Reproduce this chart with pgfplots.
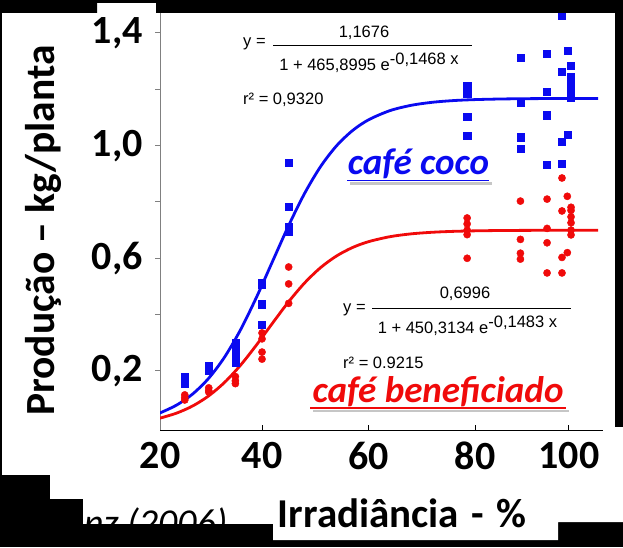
\documentclass[border=0pt]{standalone}
\usepackage{fontspec}
\setmainfont{Carlito}
\newfontfamily\arial{Liberation Sans}
\usepackage{pgfplots}
\pgfplotsset{compat=1.18}
\definecolor{cblue}{RGB}{10,10,240}
\definecolor{cred}{RGB}{240,10,10}
\begin{document}
\begin{tikzpicture}[x=1pt,y=1pt]
\fill[black] (0,0) rectangle (623,547);
\fill[white] (2,72) -- (50,72) -- (50,48) -- (83,48) -- (83,23) -- (273,23) -- (273,7) -- (558,7) -- (558,25) -- (623,25) -- (623,120) -- (615,120) -- (615,534) -- (156,534) -- (156,544) -- (97,544) -- (97,534) -- (2,534) -- cycle;
\begin{axis}[
  scale only axis, width=443pt, height=417pt,
  at={(160pt,117pt)}, anchor=south west,
  xmin=20.85, xmax=104, ymin=-0.0096, ymax=1.4707,
  axis x line=bottom, axis y line=left,
  axis line style={-},
  x axis line style={black, line width=1pt},
  y axis line style={gray, line width=1pt},
  xtick={20.85,40,60,80,97.6}, xticklabels={20,40,60,80,100},
  ytick={0.2,0.4,0.6,0.8,1.0,1.2,1.4},
  yticklabels={{0,2},{},{0,6},{},{1,0},{},{1,4}},
  xtick align=inside, ytick align=outside,
  major tick length=5pt,
  xtick style={black, line width=1pt},
  ytick style={gray, line width=1pt},
  tick label style={font=\fontsize{40}{40}\selectfont\bfseries, inner sep=0pt},
  xticklabel style={yshift=-12pt},
  yticklabel style={xshift=-12pt},
  clip=true,
]
\addplot[only marks, mark=square*, mark size=3.6pt, color=cblue] coordinates {
(25.5,0.18)(25.5,0.165)(25.5,0.155)
(30,0.22)(30,0.21)(30,0.20)
(35,0.30)(35,0.28)(35,0.26)(35,0.245)(35,0.23)
(40,0.513)(40,0.505)(40,0.437)(40,0.363)
(45,0.938)(45,0.782)(45,0.712)(45,0.695)
(78.5,1.212)(78.5,1.186)(78.5,1.103)(78.5,1.034)
(88.5,1.311)(88.5,1.151)(88.5,1.03)(88.5,0.99)
(93.5,1.325)(93.5,1.19)(93.5,1.108)(93.5,0.931)
(96.3,1.46)(96.3,1.261)(96.3,1.013)(96.3,0.937)
(97.3,1.336)(97.3,1.038)
(98,1.284)(98,1.245)(98,1.216)(98,1.2)(98,1.17)
};
\addplot[only marks, mark=*, mark size=3.6pt, color=cred] coordinates {
(25.5,0.115)(25.5,0.105)(25.5,0.097)
(30,0.14)(30,0.13)(30,0.125)
(35,0.18)(35,0.165)(35,0.155)
(40,0.335)(40,0.314)(40,0.267)(40,0.242)
(45,0.569)(45,0.509)(45,0.44)
(78.5,0.743)(78.5,0.722)(78.5,0.70)(78.5,0.684)(78.5,0.60)
(88.5,0.803)(88.5,0.667)(88.5,0.618)(88.5,0.597)
(93.5,0.81)(93.5,0.706)(93.5,0.655)(93.5,0.548)
(96.3,0.885)(96.3,0.768)(96.3,0.603)(96.3,0.548)
(97.3,0.82)(97.3,0.62)
(98,0.781)(98,0.77)(98,0.747)(98,0.726)(98,0.70)(98,0.683)
};
\addplot[cblue, line width=2.8pt, smooth, no marks] coordinates {
(20,0.0454)(21,0.0522)(24,0.0792)(27,0.1185)(30,0.1743)(33,0.2501)(36,0.3474)(39,0.4633)
(42,0.5901)(45,0.7163)(48,0.8307)(51,0.9259)(54,0.9996)(57,1.0536)(60,1.0916)
(64,1.1241)(68,1.1430)(72,1.1538)(76,1.1599)(80,1.1633)(85,1.1655)(90,1.1666)
(95,1.1671)(100,1.1674)(103.1,1.1675)
};
\addplot[cred, line width=2.8pt, smooth, no marks] coordinates {
(20,0.0289)(21,0.0333)(24,0.0506)(27,0.0759)(30,0.1117)(33,0.1600)(36,0.2212)(39,0.2933)
(42,0.3705)(45,0.4458)(48,0.5126)(51,0.5670)(54,0.6084)(57,0.6383)(60,0.6590)
(64,0.6766)(68,0.6867)(72,0.6924)(76,0.6956)(80,0.6974)(85,0.6986)(90,0.6991)
(95,0.6994)(100,0.6995)(103.1,0.6996)
};
\end{axis}
% top black band
\fill[black] (0,534) -- (97,534) -- (97,544) -- (156,544) -- (156,534) -- (623,534) -- (623,547) -- (0,547) -- cycle;
\fill[black] (615,120) rectangle (623,534);
% axis labels
\node[rotate=90, anchor=base, inner sep=0pt] at (54,316.5) {\fontsize{41.5}{41.5}\selectfont\bfseries Produção – kg/planta};
\node[anchor=base, inner sep=0pt] at (402,20) {\fontsize{41}{41}\selectfont\bfseries Irradiância\hspace{0.3em}-\hspace{0.3em}\%};
\node[anchor=base west, inner sep=0pt] at (84,12) {\fontsize{38}{38}\selectfont\itshape nz (2006)};
\fill[black] (0,0) rectangle (273,23);
\fill[black] (0,0) rectangle (50,72);
\fill[black] (0,0) rectangle (83,48);
% equations
\begin{scope}[font=\arial\fontsize{16.5}{16.5}\selectfont]
\node[anchor=base west, inner sep=0pt] at (243,500) {y =};
\node[anchor=base, inner sep=0pt] at (364,509.5) {1,1676};
\draw[line width=0.9pt] (273,502) -- (472,502);
\node[anchor=base, inner sep=0pt] at (369,476.5) {1 + 465,8995 e\raisebox{6pt}{-0,1468 x}};
\node[anchor=base west, inner sep=0pt] at (243,442.5) {r² = 0,9320};
\node[anchor=base west, inner sep=0pt] at (343,235) {y =};
\node[anchor=base, inner sep=0pt] at (465,248.5) {0,6996};
\draw[line width=0.9pt] (372,239) -- (571,239);
\node[anchor=base, inner sep=0pt] at (467.5,213.5) {1 + 450,3134 e\raisebox{6pt}{-0,1483 x}};
\node[anchor=base west, inner sep=0pt] at (343,178.5) {r² = 0.9215};
\end{scope}
% series names with underline and soft shadow line
\draw[gray!45, line width=2.5pt] (350,363.5) -- (492,363.5);
\node[anchor=base, inner sep=0pt, text=cblue] at (418.5,372) {\fontsize{37}{37}\selectfont\bfseries\itshape café coco};
\draw[cblue, line width=1.8pt] (347,366.5) -- (489,366.5);
\draw[gray!45, line width=2.5pt] (313,136) -- (569,136);
\node[anchor=base, inner sep=0pt, text=cred] at (438,145) {\fontsize{37}{37}\selectfont\bfseries\itshape café beneficiado};
\draw[cred, line width=1.8pt] (310,139) -- (566,139);
\end{tikzpicture}
\end{document}
